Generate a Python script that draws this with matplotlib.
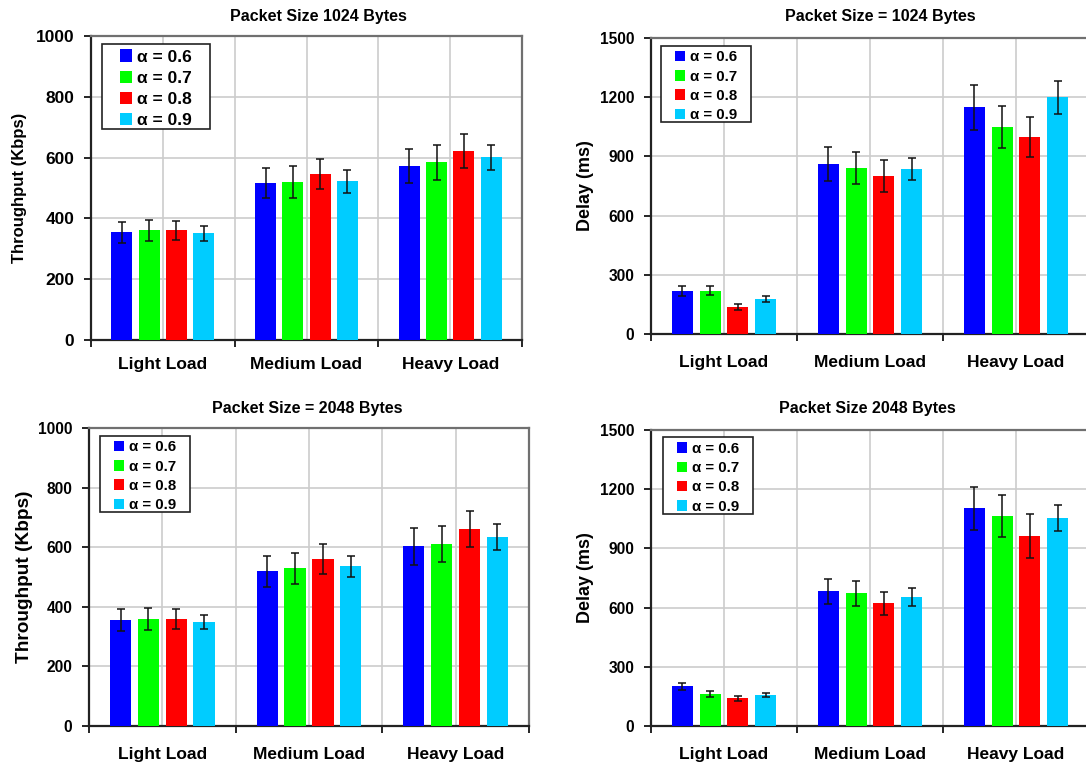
import matplotlib
matplotlib.use("Agg")
import matplotlib.pyplot as plt
from matplotlib.patches import Rectangle
import numpy as np

plt.rcParams['font.family'] = ['Liberation Sans', 'DejaVu Sans']
plt.rcParams['font.weight'] = 'bold'

# data
loads = ['Light Load', 'Medium Load', 'Heavy Load']
alphas = ['α = 0.6', 'α = 0.7', 'α = 0.8', 'α = 0.9']
colors = ['#0000FF', '#00FF00', '#FF0000', '#00CCFF']

tp1024 = [[354, 516, 572], [361, 519, 585], [361, 545, 621], [351, 522, 601]]
tp1024_err = [[35, 50, 55], [35, 53, 58], [32, 49, 56], [25, 37, 41]]
delay1024 = [[219, 861, 1149], [219, 841, 1048], [138, 801, 998], [179, 836, 1200]]
delay1024_err = [[24, 86, 115], [22, 83, 107], [15, 79, 103], [15, 57, 84]]
tp2048 = [[355, 520, 603], [359, 530, 610], [359, 560, 660], [349, 536, 634]]
tp2048_err = [[36, 52, 63], [38, 52, 60], [33, 50, 60], [25, 36, 45]]
delay2048 = [[201, 683, 1104], [161, 673, 1064], [140, 622, 962], [156, 653, 1054]]
delay2048_err = [[19, 64, 109], [15, 64, 105], [14, 58, 110], [10, 44, 66]]

W, H = 1086, 766
fig = plt.figure(figsize=(W / 100, H / 100), dpi=100)


def px_axes(x0, y0, x1, y1):
    # pixel box (top-left origin) -> axes
    return fig.add_axes([x0 / W, 1 - y1 / H, (x1 - x0) / W, (y1 - y0) / H])


def panel(box, vals, errs, ymax, ystep, title, tpos, title_fs, ylabel, ylx, tick_fs,
          lab_fs, xpad, leg_box, leg_fs):
    ax = px_axes(*box)
    x = np.arange(len(loads))
    bw = 0.145
    sp = 0.19
    for i in range(len(alphas)):
        ax.bar(x + (i - 1.5) * sp, vals[i], bw, color=colors[i], label=alphas[i],
               zorder=3, yerr=errs[i],
               error_kw=dict(ecolor='#111111', elinewidth=1.1, capsize=2.8,
                             capthick=1.1, zorder=4))
    ax.set_xlim(-0.5, 2.5)
    ax.set_ylim(0, ymax)
    ax.set_yticks(np.arange(0, ymax + 1, ystep))
    ax.set_xticks([-0.5, 0.5, 1.5, 2.5])
    ax.set_xticklabels([])
    ax.set_xticks(x, minor=True)
    ax.set_xticklabels(loads, minor=True, fontsize=12.5, fontweight='bold')
    ax.tick_params(axis='x', which='major', length=5, width=1.2, direction='out')
    ax.tick_params(axis='x', which='minor', length=0, pad=xpad)
    ax.tick_params(axis='y', length=5, width=1.2, pad=7, labelsize=tick_fs)
    for lab in ax.get_yticklabels():
        lab.set_fontweight('bold')
    ax.grid(True, which='both', color='#cccccc', linewidth=1.2, zorder=0)
    ax.set_axisbelow(True)
    for s in ['left', 'bottom']:
        ax.spines[s].set_color('#222222')
        ax.spines[s].set_linewidth(1.6)
    for s in ['top', 'right']:
        ax.spines[s].set_color('#707070')
        ax.spines[s].set_linewidth(1.6)
    fig.text(tpos[0] / W, 1 - tpos[1] / H, title, ha='center', va='center',
             fontsize=title_fs, fontweight='bold')
    fig.text(ylx / W, 1 - (box[1] + box[3]) / 2 / H, ylabel, rotation=90,
             ha='center', va='center', fontsize=lab_fs, fontweight='bold')

    # legend box, white with a dark frame, legend centred inside it
    lx0, ly0, lx1, ly1 = leg_box
    ax.add_patch(Rectangle((lx0 / W, 1 - ly1 / H), (lx1 - lx0) / W, (ly1 - ly0) / H,
                           transform=fig.transFigure, facecolor='white',
                           edgecolor='#222222', linewidth=1.2, zorder=4.5,
                           clip_on=False))
    leg = ax.legend(loc='center',
                    bbox_to_anchor=((lx0 + lx1) / 2 / W, 1 - ((ly0 + ly1) / 2 + 2) / H),
                    bbox_transform=fig.transFigure, fontsize=leg_fs,
                    frameon=False, handlelength=0.7, handleheight=0.7,
                    handletextpad=0.3, labelspacing=0.35, borderpad=0.2,
                    borderaxespad=0)
    leg.set_zorder(5)
    for t in leg.get_texts():
        t.set_fontweight('bold')
    return ax


panel((91, 36, 522, 340), tp1024, tp1024_err, 1000, 200, 'Packet Size 1024 Bytes',
      (318, 16), 11.5, 'Throughput (Kbps)', 20, 12.5, 12, 12,
      (101.5, 44.3, 210.2, 129.3), 12.5)
panel((651, 38, 1089, 334), delay1024, delay1024_err, 1500, 300,
      'Packet Size = 1024 Bytes', (880, 17), 11.5, 'Delay (ms)', 586, 11.2, 13, 15,
      (660.7, 46, 751, 122.3), 10.8)
panel((89, 428, 529, 726), tp2048, tp2048_err, 1000, 200,
      'Packet Size = 2048 Bytes', (307, 408), 11.5, 'Throughput (Kbps)', 25, 11.2, 13.7, 15,
      (100.4, 436, 189.8, 512.3), 10.8)
panel((651, 430, 1089, 726), delay2048, delay2048_err, 1500, 300,
      'Packet Size 2048 Bytes', (867, 408), 11.5, 'Delay (ms)', 586, 11.2, 13, 15,
      (663, 437.3, 752.5, 514), 10.8)

fig.savefig('out.png', dpi=100)
